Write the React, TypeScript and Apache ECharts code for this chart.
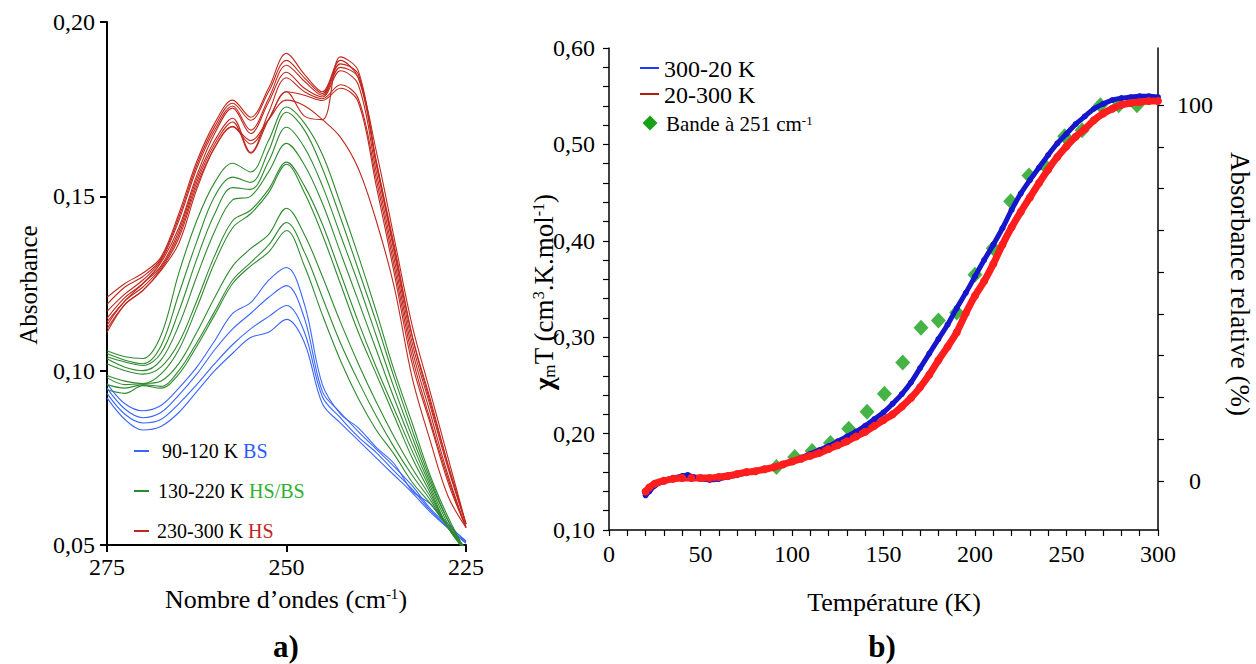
import React, { useEffect, useRef } from "react";
import * as echarts from "echarts";

// ---------- Panel a) : IR spectra ----------
const WAVENUMBERS = [275, 272.5, 270, 267.5, 265, 262.5, 260, 257.5, 255, 252.5, 250, 247.5, 245, 242.5, 240, 237.5, 235, 232.5, 230, 227.5, 225];

const SPECTRA_BS_90_120 = [
  [0.0963, 0.0905, 0.0885, 0.0900, 0.0950, 0.1010, 0.1086, 0.1164, 0.1195, 0.1259, 0.1296, 0.1190, 0.0960, 0.0876, 0.0836, 0.0780, 0.0733, 0.0655, 0.0618, 0.0560, 0.0510],
  [0.0950, 0.0890, 0.0865, 0.0880, 0.0930, 0.0990, 0.1060, 0.1120, 0.1164, 0.1210, 0.1244, 0.1150, 0.0940, 0.0880, 0.0825, 0.0775, 0.0725, 0.0670, 0.0605, 0.0555, 0.0512],
  [0.0935, 0.0875, 0.0850, 0.0860, 0.0905, 0.0960, 0.1020, 0.1075, 0.1120, 0.1155, 0.1187, 0.1110, 0.0925, 0.0865, 0.0810, 0.0765, 0.0712, 0.0660, 0.0600, 0.0550, 0.0508],
  [0.0922, 0.0860, 0.0830, 0.0840, 0.0880, 0.0940, 0.1000, 0.1050, 0.1095, 0.1110, 0.1147, 0.1080, 0.0905, 0.0850, 0.0800, 0.0750, 0.0700, 0.0650, 0.0595, 0.0548, 0.0505],
];

const SPECTRA_HSBS_130_220 = [
  [0.1057, 0.1040, 0.1035, 0.1100, 0.1280, 0.1430, 0.1540, 0.1595, 0.1570, 0.1660, 0.1756, 0.1710, 0.1620, 0.1480, 0.1330, 0.1170, 0.1000, 0.0850, 0.0700, 0.0580, 0.0480],
  [0.1049, 0.1030, 0.1020, 0.1070, 0.1220, 0.1370, 0.1500, 0.1555, 0.1540, 0.1630, 0.1741, 0.1690, 0.1580, 0.1440, 0.1290, 0.1140, 0.0980, 0.0830, 0.0690, 0.0570, 0.0480],
  [0.1040, 0.1025, 0.1015, 0.1050, 0.1170, 0.1320, 0.1450, 0.1525, 0.1520, 0.1600, 0.1698, 0.1640, 0.1530, 0.1390, 0.1250, 0.1100, 0.0950, 0.0810, 0.0680, 0.0570, 0.0480],
  [0.1034, 0.1010, 0.1000, 0.1030, 0.1130, 0.1270, 0.1400, 0.1490, 0.1500, 0.1570, 0.1652, 0.1590, 0.1480, 0.1340, 0.1200, 0.1060, 0.0920, 0.0790, 0.0670, 0.0560, 0.0480],
  [0.1020, 0.1000, 0.0990, 0.1010, 0.1080, 0.1200, 0.1330, 0.1430, 0.1460, 0.1520, 0.1598, 0.1530, 0.1420, 0.1280, 0.1140, 0.1010, 0.0890, 0.0770, 0.0660, 0.0550, 0.0480],
  [0.0986, 0.0970, 0.0963, 0.0990, 0.1060, 0.1180, 0.1310, 0.1410, 0.1450, 0.1510, 0.1592, 0.1510, 0.1390, 0.1250, 0.1110, 0.0990, 0.0870, 0.0750, 0.0650, 0.0550, 0.0480],
  [0.0980, 0.0960, 0.0963, 0.0970, 0.1020, 0.1110, 0.1210, 0.1300, 0.1350, 0.1390, 0.1466, 0.1390, 0.1270, 0.1140, 0.1020, 0.0910, 0.0810, 0.0720, 0.0640, 0.0550, 0.0490],
  [0.0960, 0.0950, 0.0960, 0.0955, 0.1000, 0.1080, 0.1170, 0.1260, 0.1310, 0.1360, 0.1425, 0.1340, 0.1210, 0.1080, 0.0970, 0.0870, 0.0780, 0.0700, 0.0630, 0.0550, 0.0490],
  [0.0945, 0.0935, 0.0957, 0.0950, 0.0990, 0.1070, 0.1160, 0.1250, 0.1300, 0.1340, 0.1402, 0.1300, 0.1160, 0.1030, 0.0920, 0.0830, 0.0760, 0.0680, 0.0620, 0.0550, 0.0490],
];

const SPECTRA_HS_230_300 = [
  [0.1210, 0.1250, 0.1280, 0.1325, 0.1450, 0.1600, 0.1710, 0.1776, 0.1727, 0.1810, 0.1910, 0.1850, 0.1800, 0.1890, 0.1840, 0.1630, 0.1380, 0.1130, 0.0940, 0.0750, 0.0560],
  [0.1190, 0.1240, 0.1270, 0.1320, 0.1440, 0.1590, 0.1700, 0.1767, 0.1718, 0.1800, 0.1890, 0.1840, 0.1795, 0.1880, 0.1850, 0.1600, 0.1350, 0.1100, 0.0920, 0.0730, 0.0560],
  [0.1170, 0.1220, 0.1260, 0.1315, 0.1430, 0.1580, 0.1690, 0.1759, 0.1690, 0.1780, 0.1876, 0.1830, 0.1790, 0.1870, 0.1840, 0.1590, 0.1340, 0.1080, 0.0900, 0.0720, 0.0560],
  [0.1150, 0.1210, 0.1250, 0.1310, 0.1410, 0.1560, 0.1680, 0.1753, 0.1680, 0.1770, 0.1856, 0.1810, 0.1785, 0.1860, 0.1820, 0.1570, 0.1320, 0.1060, 0.0880, 0.0700, 0.0550],
  [0.1140, 0.1200, 0.1250, 0.1300, 0.1400, 0.1550, 0.1660, 0.1724, 0.1626, 0.1740, 0.1840, 0.1800, 0.1780, 0.1820, 0.1780, 0.1550, 0.1300, 0.1040, 0.0860, 0.0690, 0.0550],
  [0.1130, 0.1200, 0.1240, 0.1295, 0.1390, 0.1540, 0.1650, 0.1713, 0.1624, 0.1720, 0.1800, 0.1730, 0.1720, 0.1900, 0.1860, 0.1600, 0.1360, 0.1100, 0.0910, 0.0730, 0.0560],
  [0.1120, 0.1190, 0.1230, 0.1290, 0.1380, 0.1530, 0.1640, 0.1700, 0.1650, 0.1720, 0.1800, 0.1790, 0.1775, 0.1810, 0.1770, 0.1530, 0.1280, 0.1020, 0.0850, 0.0680, 0.0550],
  [0.1110, 0.1190, 0.1230, 0.1287, 0.1365, 0.1520, 0.1640, 0.1700, 0.1660, 0.1720, 0.1776, 0.1760, 0.1720, 0.1670, 0.1580, 0.1430, 0.1240, 0.0980, 0.0800, 0.0640, 0.0550],
];

// ---------- Panel b) : chi_m T vs temperature ----------
const TEMP_COOLING = [20, 22, 25, 30, 35, 40, 43, 46, 50, 55, 60, 65, 70, 75, 80, 85, 90, 95, 100, 105, 110, 115, 120, 125, 130, 135, 140, 145, 150, 155, 160, 165, 170, 175, 180, 185, 190, 195, 200, 205, 210, 215, 220, 225, 230, 235, 240, 245, 250, 255, 260, 265, 270, 275, 280, 285, 290, 295, 300];
const CHIT_COOLING = [0.136, 0.140, 0.146, 0.151, 0.154, 0.156, 0.157, 0.155, 0.153, 0.152, 0.153, 0.155, 0.157, 0.159, 0.161, 0.163, 0.165, 0.168, 0.171, 0.175, 0.179, 0.183, 0.187, 0.192, 0.197, 0.202, 0.208, 0.215, 0.222, 0.231, 0.241, 0.253, 0.268, 0.283, 0.298, 0.313, 0.330, 0.346, 0.363, 0.380, 0.396, 0.413, 0.432, 0.449, 0.463, 0.476, 0.489, 0.501, 0.511, 0.521, 0.529, 0.537, 0.542, 0.546, 0.548, 0.549, 0.550, 0.550, 0.549];

const TEMP_HEATING = [20, 22, 25, 30, 35, 40, 45, 50, 55, 60, 65, 70, 75, 80, 85, 90, 95, 100, 105, 110, 115, 120, 125, 130, 135, 140, 145, 150, 155, 160, 165, 170, 175, 180, 185, 190, 195, 200, 205, 210, 215, 220, 225, 230, 235, 240, 245, 250, 255, 260, 265, 270, 275, 280, 285, 290, 295, 300];
const CHIT_HEATING = [0.140, 0.144, 0.148, 0.151, 0.153, 0.154, 0.154, 0.154, 0.154, 0.155, 0.156, 0.158, 0.160, 0.161, 0.163, 0.165, 0.168, 0.171, 0.174, 0.177, 0.180, 0.184, 0.188, 0.192, 0.197, 0.202, 0.208, 0.214, 0.220, 0.228, 0.237, 0.248, 0.261, 0.276, 0.290, 0.305, 0.325, 0.343, 0.358, 0.376, 0.396, 0.414, 0.430, 0.445, 0.460, 0.474, 0.487, 0.498, 0.508, 0.516, 0.525, 0.532, 0.537, 0.541, 0.543, 0.544, 0.545, 0.545];

const BAND_TEMP = [91.5, 101.5, 111, 121, 131, 141, 150.5, 160.5, 170.5, 180, 190, 200, 210, 219.5, 229.5, 239, 249, 258.5, 268.5, 278.5, 288.5];
const BAND_PERCENT = [3.7, 6.4, 8.0, 10.1, 13.9, 18.4, 23.2, 31.5, 40.8, 42.7, 44.8, 54.9, 61.9, 74.4, 81.3, 83.5, 91.7, 93.3, 100, 100, 100];

const RIGHT_TICKS = [0, 100 / 9, 200 / 9, 300 / 9, 400 / 9, 500 / 9, 600 / 9, 700 / 9, 800 / 9, 100];
const RIGHT_LABELS = [0, 100];

const FONT = "Liberation Serif";
const C_BS = "#3a66ff";
const C_HSBS = "#2f8a2f";
const C_HS = "#c0281e";

function pairs(xs: number[], ys: number[]) {
  return xs.map((x, i) => [x, ys[i]]);
}

export default function App() {
  const ref = useRef<HTMLDivElement>(null);

  useEffect(() => {
    if (!ref.current) return;
    const chart = echarts.init(ref.current, undefined, { renderer: "svg" });

    const specSeries = (curves: number[][], color: string) =>
      curves.map((c) => ({
        type: "line",
        xAxisIndex: 0,
        yAxisIndex: 0,
        data: pairs(WAVENUMBERS, c),
        smooth: 0.35,
        showSymbol: false,
        clip: true,
        lineStyle: { color, width: 1.1 },
        silent: true,
      }));

    const label = { fontFamily: FONT, fontSize: 24, color: "#000" };
    const txt = (x: number, y: number, text: string, extra: any = {}, rot = 0) => ({
      type: "text",
      x,
      y,
      rotation: rot,
      silent: true,
      style: {
        text,
        fontFamily: FONT,
        fontSize: 24,
        fill: "#000",
        align: "left",
        verticalAlign: "middle",
        ...extra,
      },
    });

    const legLine = (x1: number, x2: number, y: number, color: string) => ({
      type: "line",
      silent: true,
      shape: { x1, y1: y, x2, y2: y },
      style: { stroke: color, lineWidth: 2 },
    });

    const option: any = {
      animation: false,
      backgroundColor: "#fff",
      textStyle: { fontFamily: FONT },
      grid: [
        { left: 107, top: 22, width: 359, height: 523 },
        { left: 609, top: 48, width: 549, height: 482 },
      ],
      xAxis: [
        {
          type: "value",
          gridIndex: 0,
          min: 225,
          max: 275,
          interval: 25,
          inverse: true,
          axisLine: { show: true, onZero: false, lineStyle: { color: "#000", width: 2 } },
          axisTick: { show: true, length: 7, lineStyle: { color: "#000", width: 2 } },
          axisLabel: { ...label, margin: 10 },
          splitLine: { show: false },
        },
        {
          type: "value",
          gridIndex: 1,
          min: 0,
          max: 300,
          interval: 50,
          axisLine: { show: true, onZero: false, lineStyle: { color: "#000", width: 1.5 } },
          axisTick: { show: true, length: 6, lineStyle: { color: "#000", width: 1.2 } },
          minorTick: { show: true, splitNumber: 5, length: 6, lineStyle: { color: "#000", width: 1.2 } },
          axisLabel: { ...label, margin: 12 },
          splitLine: { show: false },
        },
      ],
      yAxis: [
        {
          type: "value",
          gridIndex: 0,
          min: 0.05,
          max: 0.2,
          interval: 0.05,
          axisLine: { show: true, onZero: false, lineStyle: { color: "#000", width: 2 } },
          axisTick: { show: true, length: 7, lineStyle: { color: "#000", width: 2 } },
          axisLabel: { ...label, margin: 12, formatter: (v: number) => v.toFixed(2).replace(".", ",") },
          splitLine: { show: false },
        },
        {
          type: "value",
          gridIndex: 1,
          min: 0.1,
          max: 0.6,
          interval: 0.1,
          axisLine: { show: true, onZero: false, lineStyle: { color: "#000", width: 1.5 } },
          axisTick: { show: true, length: 6, lineStyle: { color: "#000", width: 1.2 } },
          minorTick: { show: true, splitNumber: 5, length: 6, lineStyle: { color: "#000", width: 1.2 } },
          axisLabel: { ...label, margin: 14, formatter: (v: number) => v.toFixed(2).replace(".", ",") },
          splitLine: { show: false },
        },
        {
          type: "value",
          gridIndex: 1,
          position: "right",
          min: -13.03,
          max: 115.2,
          axisLine: { show: true, onZero: false, lineStyle: { color: "#000", width: 1.5 } },
          axisTick: { show: true, length: 6, customValues: RIGHT_TICKS, lineStyle: { color: "#000", width: 1.2 } },
          axisLabel: { ...label, margin: 37, align: "center", customValues: RIGHT_LABELS },
          splitLine: { show: false },
        },
      ],
      series: [
        ...specSeries(SPECTRA_BS_90_120, C_BS),
        ...specSeries(SPECTRA_HSBS_130_220, C_HSBS),
        ...specSeries(SPECTRA_HS_230_300, C_HS),
        {
          type: "line",
          xAxisIndex: 1,
          yAxisIndex: 1,
          data: pairs(TEMP_COOLING, CHIT_COOLING),
          smooth: 0.3,
          symbol: "circle",
          symbolSize: 6,
          showSymbol: true,
          itemStyle: { color: "#1616cc" },
          lineStyle: { color: "#1616cc", width: 5 },
          silent: true,
        },
        {
          type: "line",
          xAxisIndex: 1,
          yAxisIndex: 1,
          data: pairs(TEMP_HEATING, CHIT_HEATING),
          smooth: 0.3,
          symbol: "circle",
          symbolSize: 8,
          showSymbol: true,
          itemStyle: { color: "#ff1e1e" },
          lineStyle: { color: "#ff1e1e", width: 7 },
          silent: true,
        },
        {
          type: "scatter",
          xAxisIndex: 1,
          yAxisIndex: 2,
          data: pairs(BAND_TEMP, BAND_PERCENT),
          symbol: "diamond",
          symbolSize: [15, 16],
          itemStyle: { color: "#18a018" },
          silent: true,
        },
      ],
      graphic: [
        // Panel a) texts
        txt(28, 285, "Absorbance", { align: "center", fontSize: 25 }, Math.PI / 2),
        txt(286, 599, "{n|Nombre d’ondes (cm}{s|-1}{n|)}", {
          align: "center",
          rich: {
            n: { fontFamily: FONT, fontSize: 26, fill: "#000" },
            s: { fontFamily: FONT, fontSize: 15, fill: "#000", verticalAlign: "top" },
          },
        }),
        txt(286, 646, "a)", { align: "center", fontSize: 31, fontWeight: "bold" }),
        legLine(134, 149, 451, C_BS),
        legLine(134, 149, 491, C_HSBS),
        legLine(134, 149, 531, C_HS),
        txt(162, 451, "{k|90-120 K }{c|BS}", {
          rich: {
            k: { fontFamily: FONT, fontSize: 20, fill: "#000" },
            c: { fontFamily: FONT, fontSize: 20, fill: "#2c5cff" },
          },
        }),
        txt(158, 491, "{k|130-220 K }{c|HS/BS}", {
          rich: {
            k: { fontFamily: FONT, fontSize: 20, fill: "#000" },
            c: { fontFamily: FONT, fontSize: 20, fill: "#2fb02f" },
          },
        }),
        txt(157, 531, "{k|230-300 K }{c|HS}", {
          rich: {
            k: { fontFamily: FONT, fontSize: 20, fill: "#000" },
            c: { fontFamily: FONT, fontSize: 20, fill: C_HS },
          },
        }),
        // Panel b) texts
        txt(544, 292, "{b|χ}{sub|m}{n|T (cm}{sup|3}{n|.K.mol}{sup|-1}{n|)}", {
          align: "center",
          rich: {
            b: { fontFamily: FONT, fontSize: 27, fontWeight: "bold", fill: "#000" },
            sub: { fontFamily: FONT, fontSize: 17, fill: "#000", verticalAlign: "bottom" },
            sup: { fontFamily: FONT, fontSize: 16, fill: "#000", verticalAlign: "top" },
            n: { fontFamily: FONT, fontSize: 27, fill: "#000" },
          },
        }, Math.PI / 2),
        txt(1240, 284, "Absorbance relative (%)", { align: "center", fontSize: 27 }, -Math.PI / 2),
        txt(894, 602, "Température (K)", { align: "center", fontSize: 26 }),
        txt(882, 646, "b)", { align: "center", fontSize: 31, fontWeight: "bold" }),
        legLine(640, 659, 68, "#1a3cff"),
        legLine(640, 659, 94, "#b01c10"),
        txt(664, 69, "300-20 K"),
        txt(664, 95, "20-300 K"),
        {
          type: "polygon",
          silent: true,
          shape: { points: [[650, 115.5], [657.5, 123], [650, 130.5], [642.5, 123]] },
          style: { fill: "#18a018" },
        },
        txt(666, 124, "{n|Bande à 251 cm}{s|-1}", {
          rich: {
            n: { fontFamily: FONT, fontSize: 21, fill: "#000" },
            s: { fontFamily: FONT, fontSize: 13, fill: "#000", verticalAlign: "top" },
          },
        }),
      ],
    };

    chart.setOption(option);
    return () => chart.dispose();
  }, []);

  return (
    <div
      ref={ref}
      style={{ position: "fixed", left: 0, top: 0, width: 1256, height: 664, background: "#fff" }}
    />
  );
}
